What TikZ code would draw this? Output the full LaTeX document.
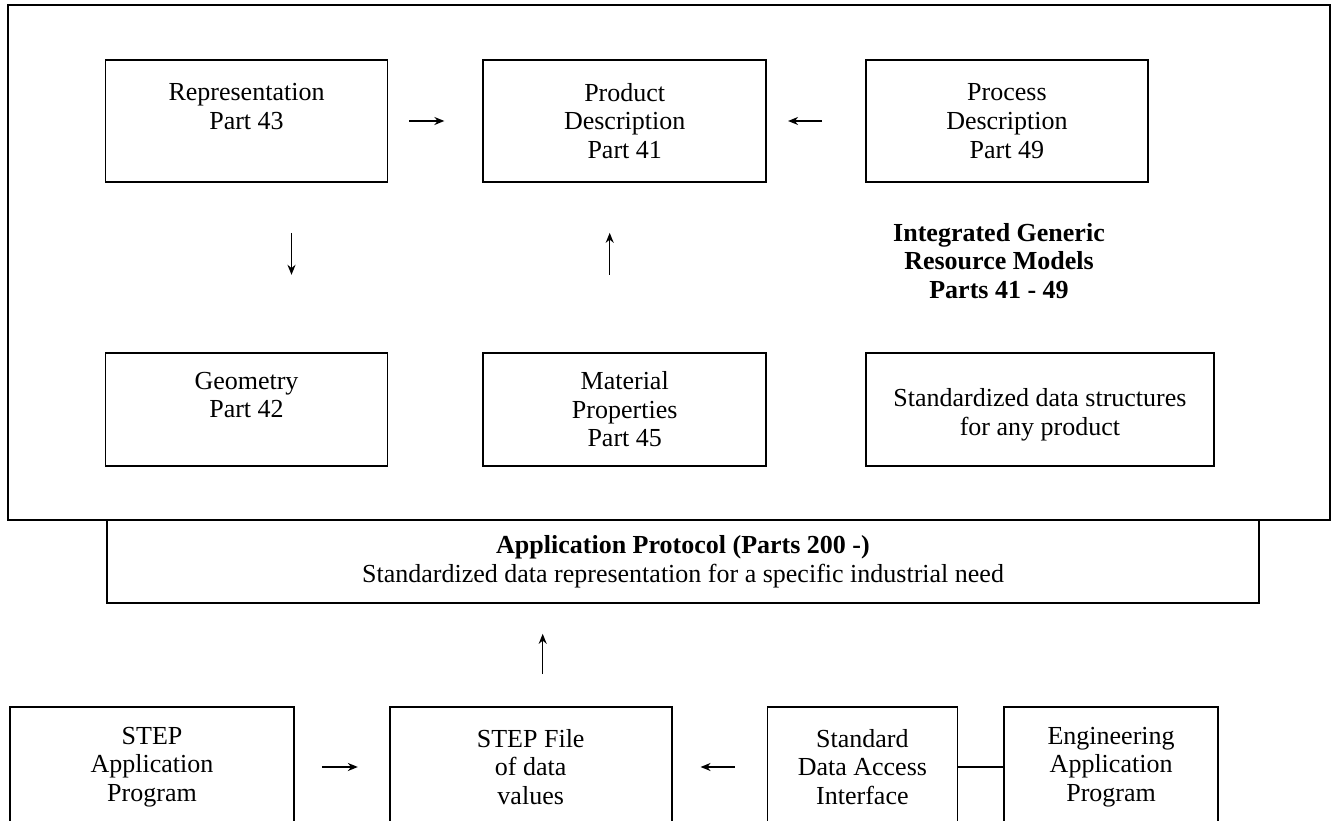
\documentclass[tikz,border=0pt]{standalone}
\usepackage{fontspec}
\setmainfont{Liberation Serif}
\usetikzlibrary{positioning,arrows.meta,calc}
\tikzset{
  rbox/.style={draw=black,fill=white,line width=1.7pt,align=center,
               minimum width=282pt,minimum height=122pt,inner sep=2pt,
               font=\fontsize{26}{28.7}\selectfont},
  bbox/.style={rbox,minimum height=120pt},
  lbl/.style={align=center,font=\fontsize{26}{28.7}\selectfont\bfseries},
  arr/.style={-{Stealth[length=10pt,width=8pt]},black,line width=1.5pt},
  lnk/.style={black,line width=1.5pt},
}

\begin{document}
\begin{tikzpicture}[x=1pt,y=1pt]
  \useasboundingbox (0,0) rectangle (1333,821);
  \clip (0,0) rectangle (1333,821);
  % integrated generic resources
  \node[draw,line width=1.7pt,minimum width=1322pt,minimum height=515pt] (igrm) at (669,558.5) {};
  \node[rbox] (rep) at (246.5,700) {Representation\\Part 43\\~};
  \node[rbox,minimum width=283pt,right=94pt of rep] (prod) {Product\\Description\\Part 41};
  \node[rbox,right=98pt of prod] (proc) {Process\\Description\\Part 49};
  \node[rbox,minimum height=113pt,below=169pt of rep] (geo) {Geometry\\Part 42\\~};
  \node[rbox,minimum width=283pt,minimum height=113pt,below=169pt of prod] (mat) {Material\\Properties\\Part 45};
  \node[rbox,minimum width=348pt,minimum height=113pt,below=169pt of proc.south west,anchor=north west] (std)
       {~\\Standardized data structures\\for any product};
  \node[lbl] (igrmlbl) at (999,560) {Integrated Generic\\Resource Models\\Parts 41 - 49};
  \draw[arr,shorten <=21pt,shorten >=38pt] (rep) -- (prod);
  \draw[arr,shorten <=43pt,shorten >=21pt] (proc) -- (prod);
  \draw[arr,shorten <=50pt,shorten >=77pt] ([xshift=45pt]rep.south) -- ([xshift=45pt]geo.north);
  \draw[arr,shorten <=77pt,shorten >=50pt] ([xshift=-15pt]mat.north) -- ([xshift=-15pt]prod.south);
  % application protocol
  \node[rbox,minimum width=1152pt,minimum height=83pt] (ap) at (683,259.5)
       {\textbf{Application Protocol (Parts 200 -)}\\Standardized data representation for a specific industrial need};
  % implementation
  \node[bbox,minimum width=284pt] (sap) at (152,54) {STEP\\Application\\Program};
  \node[bbox,right=94pt of sap] (sfile) {STEP File\\of data\\values};
  \node[bbox,minimum width=190pt,right=94pt of sfile] (sdai) {Standard\\Data Access\\Interface};
  \node[bbox,minimum width=214pt,right=45pt of sdai] (eap) {Engineering\\Application\\Program};
  \draw[arr,shorten <=32pt,shorten >=30pt] ([xshift=12pt]sfile.north) -- ([xshift=12pt]sfile.north |- ap.south);
  \draw[arr,shorten <=27pt,shorten >=31pt] (sap) -- (sfile);
  \draw[arr,shorten <=32pt,shorten >=28pt] (sdai) -- (sfile);
  \draw[lnk] (sdai) -- (eap);
\end{tikzpicture}
\end{document}
